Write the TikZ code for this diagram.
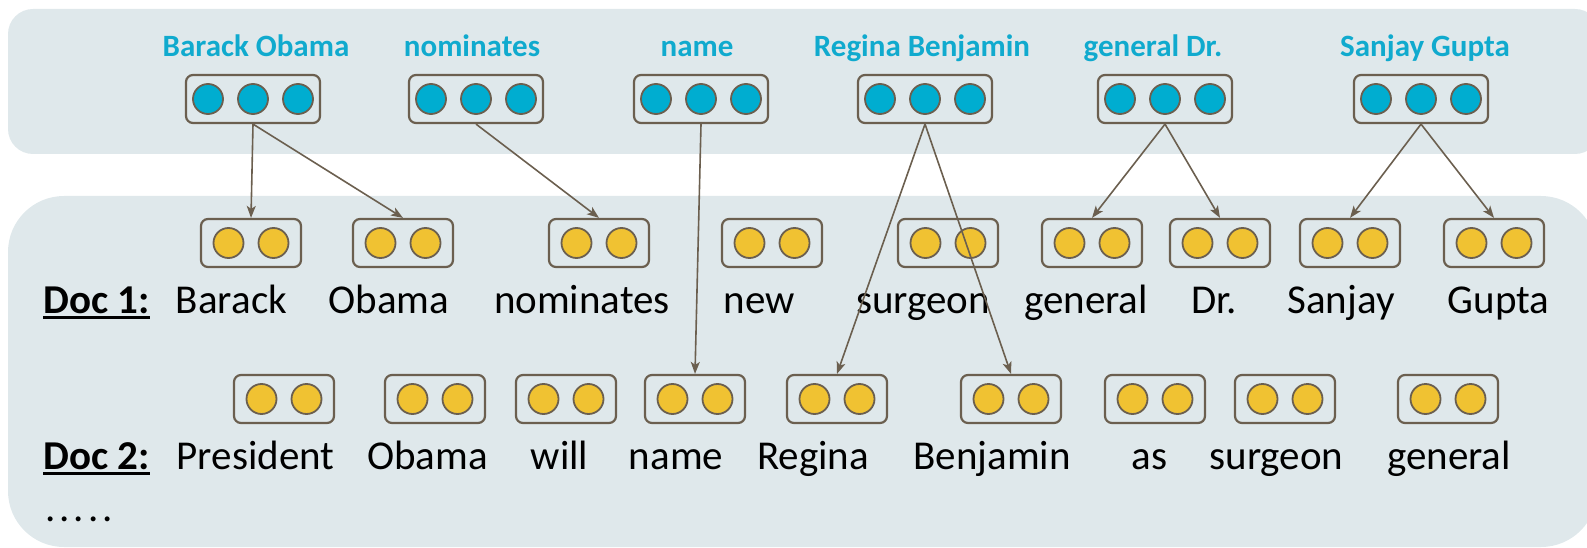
\documentclass[tikz,border=0pt]{standalone}
\usepackage{fontspec}
\setmainfont{Carlito}
\usetikzlibrary{arrows.meta}
\definecolor{panelc}{RGB}{223,232,235}
\definecolor{cyanf}{RGB}{0,173,208}
\definecolor{labc}{RGB}{16,170,206}
\definecolor{yel}{RGB}{240,194,50}
\definecolor{outl}{RGB}{107,95,79}
\newcommand\docul[1]{\setbox0\hbox{#1}\rlap{\rule[-6pt]{\wd0}{3pt}}\box0}
\newcommand\ybox[3]{%
  \node[ybx] (#1) at (#2,#3) {};
  \node[yc] (#1a) at ([xshift=-22.5pt]#1.center) {};
  \node[yc] (#1b) at ([xshift=22.5pt]#1.center) {};}
\newcommand\bbox[3]{%
  \node[bbx] (#1) at (#2,#3) {};
  \node[bc] (#1a) at ([xshift=-45pt]#1.center) {};
  \node[bc] (#1b) at (#1.center) {};
  \node[bc] (#1c) at ([xshift=45pt]#1.center) {};}
\tikzset{
  panel/.style={fill=panelc, draw=none},
  ybx/.style={draw=outl, line width=2.2pt, rounded corners=7pt, minimum width=100pt, minimum height=48pt, inner sep=0pt},
  bbx/.style={ybx, minimum width=134pt},
  yc/.style={circle, draw=outl, line width=1.8pt, fill=yel, minimum size=30pt, inner sep=0pt},
  bc/.style={yc, fill=cyanf},
  wd/.style={anchor=base, inner sep=0pt, font=\fontsize{41}{48}\selectfont},
  docl/.style={anchor=base west, inner sep=0pt, font=\fontsize{41}{48}\selectfont\bfseries},
  lab/.style={anchor=base, inner sep=0pt, text=labc, font=\fontsize{31}{36}\selectfont\bfseries},
  arr/.style={draw=outl, line width=1.6pt, -{Stealth[length=12pt,width=9pt,inset=3pt]}}
}
\begin{document}
\begin{tikzpicture}[x=1pt,y=-1pt]
\useasboundingbox (0,0) rectangle (1587,548);
\clip (0,0) rectangle (1587,548);
% panels
\path[panel, rounded corners=25pt] (8,9) rectangle (1600,154);
\path[panel, rounded corners=56pt] (8,196) rectangle (1597,547);
% top labels
\node[lab] (lbo) at (256,57) {Barack Obama};
\node[lab] (lnom) at (472,57) {nominates};
\node[lab] (lnm) at (697,57) {name};
\node[lab] (lrb) at (922,57) {Regina Benjamin};
\node[lab] (lgd) at (1153,57) {general Dr.};
\node[lab] (lsg) at (1425,57) {Sanjay Gupta};
% doc 1 text
\node[docl] (doc1) at (43,313) {\docul{Doc 1:}};
\node[wd] (d1a) at (231.5,313) {Barack};
\node[wd] (d1b) at (389,313) {Obama};
\node[wd] (d1c) at (582,313) {nominates};
\node[wd] (d1d) at (759,313) {new};
\node[wd] (d1e) at (923,313) {surgeon};
\node[wd] (d1f) at (1086,313) {general};
\node[wd] (d1g) at (1214,313) {Dr.};
\node[wd] (d1h) at (1341,313) {Sanjay};
\node[wd] (d1i) at (1498.5,313) {Gupta};
% doc 2 text
\node[docl] (doc2) at (43,469) {\docul{Doc 2:}};
\node[wd] (d2a) at (255.5,469) {President};
\node[wd] (d2b) at (427.5,469) {Obama};
\node[wd] (d2c) at (559.5,469) {will};
\node[wd] (d2d) at (676,469) {name};
\node[wd] (d2e) at (813,469) {Regina};
\node[wd] (d2f) at (992,469) {Benjamin};
\node[wd] (d2g) at (1149.5,469) {as};
\node[wd] (d2h) at (1276.5,469) {surgeon};
\node[wd] (d2i) at (1449,469) {general};
\node[docl] (dots) at (45,521) {\mdseries .\kern4pt.\kern4pt.\kern4pt.\kern4pt.};
% top boxes
\bbox{bo}{253}{99}
\bbox{nom}{476}{99}
\bbox{nm}{701}{99}
\bbox{rb}{925}{99}
\bbox{gd}{1165}{99}
\bbox{sg}{1421}{99}
% doc 1 boxes
\ybox{ya}{251}{243}
\ybox{yb}{403}{243}
\ybox{yc}{599}{243}
\ybox{yd}{772}{243}
\ybox{ye}{948}{243}
\ybox{yf}{1092}{243}
\ybox{yg}{1220}{243}
\ybox{yh}{1350}{243}
\ybox{yi}{1494}{243}
% doc 2 boxes
\ybox{za}{284}{399}
\ybox{zb}{435}{399}
\ybox{zc}{566}{399}
\ybox{zd}{695}{399}
\ybox{ze}{837}{399}
\ybox{zf}{1011}{399}
\ybox{zg}{1155}{399}
\ybox{zh}{1285}{399}
\ybox{zi}{1448}{399}
% arrows
\draw[arr] (bo.south) -- (ya.north);
\draw[arr] (bo.south) -- (yb.north);
\draw[arr] (nom.south) -- (yc.north);
\draw[arr] (nm.south) -- (zd.north);
\draw[arr] (rb.south) -- (ze.north);
\draw[arr] (rb.south) -- (zf.north);
\draw[arr] (gd.south) -- (yf.north);
\draw[arr] (gd.south) -- (yg.north);
\draw[arr] (sg.south) -- (yh.north);
\draw[arr] (sg.south) -- (yi.north);
\end{tikzpicture}
\end{document}
